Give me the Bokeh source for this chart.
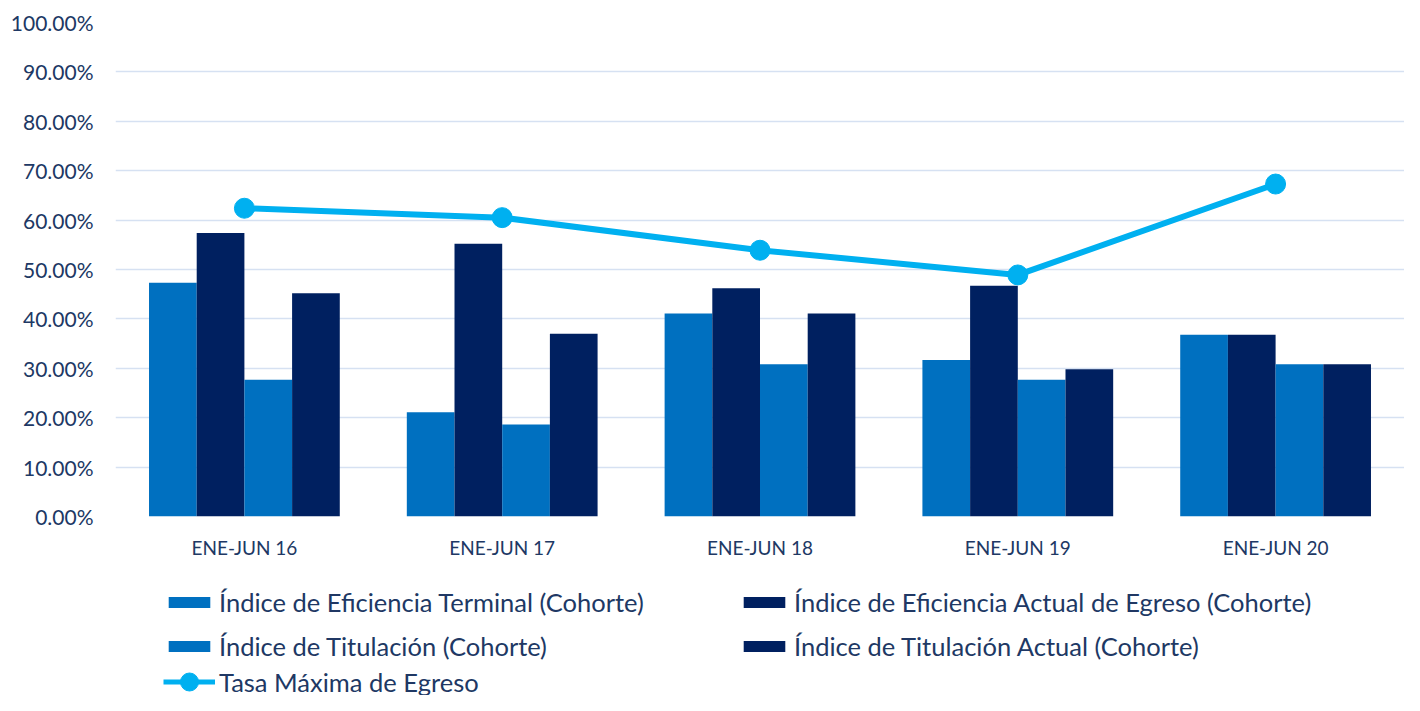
from bokeh.plotting import figure
from bokeh.layouts import column
from bokeh.models import (FactorRange, Range1d, NumeralTickFormatter, FixedTicker,
                          Legend, LegendItem, ColumnDataSource)
from bokeh.transform import dodge
from bokeh.embed import file_html
from bokeh.resources import INLINE

categories = ["ENE-JUN 16", "ENE-JUN 17", "ENE-JUN 18", "ENE-JUN 19", "ENE-JUN 20"]
ef_terminal = [0.473, 0.211, 0.411, 0.317, 0.368]
ef_actual = [0.574, 0.552, 0.462, 0.467, 0.368]
titulacion = [0.277, 0.186, 0.308, 0.277, 0.308]
tit_actual = [0.452, 0.370, 0.411, 0.298, 0.308]
tasa_max = [0.624, 0.605, 0.539, 0.489, 0.673]

names = ["Índice de Eficiencia Terminal (Cohorte)",
         "Índice de Eficiencia Actual de Egreso (Cohorte)",
         "Índice de Titulación (Cohorte)",
         "Índice de Titulación Actual (Cohorte)",
         "Tasa Máxima de Egreso"]

FONT = "Lato"
TXT = "#203864"
C_LIGHT = "#0070C0"
C_DARK = "#002060"
C_LINE = "#00B0F0"

src = ColumnDataSource(dict(cat=categories, a=ef_terminal, b=ef_actual,
                            c=titulacion, d=tit_actual, t=tasa_max))

p = figure(x_range=FactorRange(*categories), y_range=Range1d(0, 1),
           width=1404, height=561, output_backend="svg", toolbar_location=None,
           min_border_left=115, min_border_right=0, min_border_top=22, min_border_bottom=40)
p.outline_line_color = None

w = 0.185
offs = [-1.5 * w, -0.5 * w, 0.5 * w, 1.5 * w]
cols = ["a", "b", "c", "d"]
colors = [C_LIGHT, C_DARK, C_LIGHT, C_DARK]
for off, col, colr in zip(offs, cols, colors):
    p.vbar(x=dodge("cat", off, range=p.x_range), top=col, width=w, source=src,
           fill_color=colr, line_color=None)

p.line(x="cat", y="t", source=src, line_color=C_LINE, line_width=6)
p.scatter(x="cat", y="t", source=src, size=20, fill_color=C_LINE, line_color=C_LINE)

p.yaxis.ticker = FixedTicker(ticks=[i / 10 for i in range(11)])
p.yaxis.formatter = NumeralTickFormatter(format="0.00%")
for ax in (p.xaxis, p.yaxis):
    ax.axis_line_color = None
    ax.major_tick_line_color = None
    ax.minor_tick_line_color = None
    ax.major_tick_out = 0
    ax.major_label_text_color = TXT
    ax.major_label_text_font = FONT
p.yaxis.major_label_text_font_size = "21px"
p.yaxis.major_label_standoff = 22
p.xaxis.major_label_text_font_size = "19px"
p.xaxis.major_label_standoff = 19
p.xgrid.grid_line_color = None
p.ygrid.grid_line_color = "#D6E1F2"
p.ygrid.grid_line_width = 1.5

# legend panel
lp = figure(width=1404, height=134, output_backend="svg", toolbar_location=None,
            x_range=Range1d(0, 1), y_range=Range1d(0, 1),
            x_axis_location=None, y_axis_location=None,
            min_border_left=115, min_border_right=0, min_border_top=0, min_border_bottom=0)
lp.outline_line_color = None
lp.xgrid.grid_line_color = None
lp.ygrid.grid_line_color = None
nan = float("nan")
proxy = ColumnDataSource(dict(x=[nan], y=[nan]))
lr = [lp.vbar(x="x", top="y", width=0.1, source=proxy, fill_color=c, line_color=None)
      for c in colors]
ll = lp.line(x="x", y="y", source=proxy, line_color=C_LINE, line_width=5)
lc = lp.scatter(x="x", y="y", source=proxy, size=20, fill_color=C_LINE, line_color=C_LINE)

def mk_legend(items, loc, gh=14):
    lg = Legend(items=items, location=loc, orientation="horizontal",
                glyph_width=52, glyph_height=gh, label_standoff=4, spacing=10,
                label_width=509, padding=0, margin=0,
                border_line_color=None, background_fill_alpha=0,
                label_text_font=FONT, label_text_font_size="25.5px",
                label_text_color=TXT)
    lp.add_layout(lg, "center")

mk_legend([LegendItem(label=names[0], renderers=[lr[0]]),
           LegendItem(label=names[1], renderers=[lr[1]])], (48, 78))
mk_legend([LegendItem(label=names[2], renderers=[lr[2]]),
           LegendItem(label=names[3], renderers=[lr[3]])], (48, 34))
mk_legend([LegendItem(label=names[4], renderers=[ll, lc])], (48, -9), gh=45)

layout = column(p, lp, spacing=0)
open("out.html", "w").write(file_html(layout, INLINE))
